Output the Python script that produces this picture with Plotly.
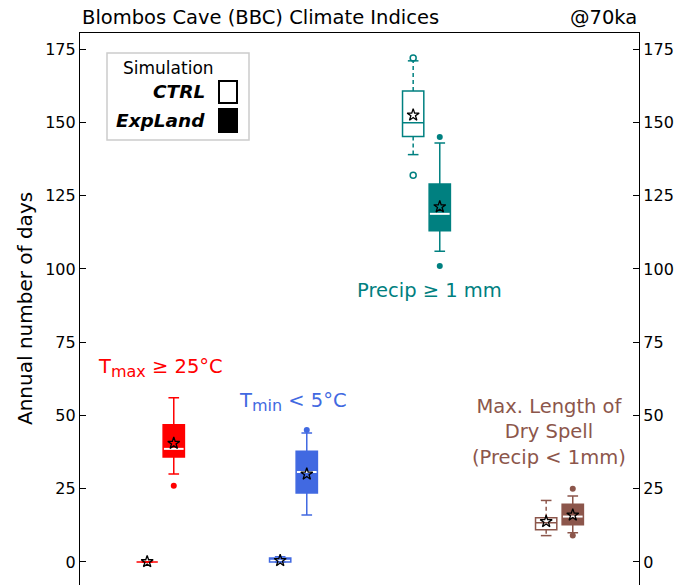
import plotly.graph_objects as go

# ---------------- data ----------------
groups = ["Tmax ≥ 25°C", "Tmin < 5°C", "Precip ≥ 1 mm", "Max dry spell"]
colors = ["#ff0000", "#4169e1", "#008080", "#8c564b"]

ctrl_lo = [0, 0, 139, 9]
ctrl_q1 = [0, 0, 145.2, 11.0]
ctrl_med = [0, 1, 149.9, 13.4]
ctrl_q3 = [0, 1.4, 160.7, 15.1]
ctrl_hi = [0, 1.8, 171, 21]
ctrl_mean = [0.1, 0.5, 152.5, 13.8]
ctrl_out = [[], [], [172, 132], []]

exp_lo = [30, 16, 106, 10]
exp_q1 = [35.8, 23.5, 113, 12.7]
exp_med = [38.6, 30.7, 118.8, 15.5]
exp_q3 = [46.8, 37.8, 129, 19.7]
exp_hi = [56, 44, 143, 22.5]
exp_mean = [40.5, 30, 121.2, 16]
exp_out = [[26], [45], [145, 101], [25, 9]]

y_ticks = [0, 25, 50, 75, 100, 125, 150, 175]

# ---------------- style ----------------
FONT = "DejaVu Sans"
OFF = 0.1
BW = 0.16
CAP = 0.04
# page body has an 8px default margin; compensate in the figure margins
ML, MR, MT, MB = 72, 59, 25, 8
PW = 690 - ML - MR
PH = 585 - MT - MB

fig = go.Figure()

for i, g in enumerate(groups):
    c = colors[i]
    # CTRL box (whiskers drawn dashed separately)
    xc = i - OFF
    fig.add_trace(go.Box(
        x=[xc], q1=[ctrl_q1[i]], median=[ctrl_med[i]], q3=[ctrl_q3[i]],
        lowerfence=[ctrl_q1[i]], upperfence=[ctrl_q3[i]],
        width=BW, fillcolor="white", line=dict(color=c, width=1.5),
        whiskerwidth=0, boxpoints=False, showlegend=False, hoverinfo="skip"))
    fig.add_trace(go.Scatter(
        x=[xc, xc, None, xc, xc],
        y=[ctrl_q3[i], ctrl_hi[i], None, ctrl_q1[i], ctrl_lo[i]],
        mode="lines", line=dict(color=c, width=1.5, dash="4px,3px"),
        showlegend=False, hoverinfo="skip"))
    fig.add_trace(go.Scatter(
        x=[xc - CAP, xc + CAP, None, xc - CAP, xc + CAP],
        y=[ctrl_hi[i], ctrl_hi[i], None, ctrl_lo[i], ctrl_lo[i]],
        mode="lines", line=dict(color=c, width=1.5),
        showlegend=False, hoverinfo="skip"))
    if ctrl_out[i]:
        fig.add_trace(go.Scatter(
            x=[xc] * len(ctrl_out[i]), y=ctrl_out[i], mode="markers",
            marker=dict(symbol="circle-open", size=6, color=c, line=dict(width=1.5)),
            showlegend=False, hoverinfo="skip"))

    # ExpLand box
    xe = i + OFF
    fig.add_trace(go.Box(
        x=[xe], q1=[exp_q1[i]], median=[exp_med[i]], q3=[exp_q3[i]],
        lowerfence=[exp_lo[i]], upperfence=[exp_hi[i]],
        width=BW, fillcolor=c, line=dict(color=c, width=1.5),
        whiskerwidth=0.5, boxpoints=False, showlegend=False, hoverinfo="skip"))
    fig.add_trace(go.Scatter(
        x=[xe - BW / 2 + 0.006, xe + BW / 2 - 0.006], y=[exp_med[i], exp_med[i]],
        mode="lines", line=dict(color="white", width=2),
        showlegend=False, hoverinfo="skip"))
    fig.add_trace(go.Scatter(
        x=[xe] * len(exp_out[i]), y=exp_out[i], mode="markers",
        marker=dict(symbol="circle", size=6, color=c),
        showlegend=False, hoverinfo="skip"))

# mean stars
fig.add_trace(go.Scatter(
    x=[i - OFF for i in range(len(groups))], y=ctrl_mean, mode="markers",
    marker=dict(symbol="star-open", size=9, color="black", line=dict(width=1.3)),
    showlegend=False, hoverinfo="skip"))
fig.add_trace(go.Scatter(
    x=[i + OFF for i in range(len(groups))], y=exp_mean, mode="markers",
    marker=dict(symbol="star-open", size=9, color="black", line=dict(width=1.3)),
    showlegend=False, hoverinfo="skip"))
# invisible trace for right axis
fig.add_trace(go.Scatter(
    x=[i + OFF for i in range(len(groups))], y=exp_mean, yaxis="y2", mode="markers",
    marker=dict(opacity=0), showlegend=False, hoverinfo="skip"))

YR = [-7.85, 180.5]
axis_common = dict(range=YR, tickvals=y_ticks, ticks="inside", ticklen=6,
                   tickwidth=1, tickcolor="black", showline=True, linecolor="black",
                   linewidth=1.2, showgrid=False, zeroline=False, automargin=False,
                   tickfont=dict(family=FONT, size=16, color="black"))

fig.update_layout(
    width=690, height=585,
    margin=dict(l=ML, r=MR, t=MT, b=MB, autoexpand=False),
    paper_bgcolor="white", plot_bgcolor="white",
    font=dict(family=FONT, color="black"),
    xaxis=dict(range=[-0.605, 3.598], showticklabels=False, ticks="", showgrid=False,
               zeroline=False, showline=True, side="top", linecolor="black", linewidth=1.2,
               automargin=False),
    yaxis=dict(**axis_common),
    yaxis2=dict(**axis_common, overlaying="y", side="right"),
    boxmode="overlay",
)

# pixel (in the screenshot) -> paper coordinates
def px(xp):
    return (xp - 80) / PW

def py(yp):
    return (585 - yp) / PH

ann = []
ann.append(dict(text="Blombos Cave (BBC) Climate Indices", xref="paper", yref="paper",
                x=0, y=py(17), xanchor="left", yanchor="middle", showarrow=False,
                font=dict(family=FONT, size=19.5, color="black")))
ann.append(dict(text="@70ka", xref="paper", yref="paper", x=1, y=py(17), xanchor="right",
                yanchor="middle", showarrow=False,
                font=dict(family=FONT, size=19.5, color="black")))
ann.append(dict(text="Annual number of days", xref="paper", yref="paper", x=px(25), y=py(309),
                textangle=-90, showarrow=False, xanchor="center", yanchor="middle",
                font=dict(family=FONT, size=20, color="black")))

SUB = "<sub><span style='font-size:16px'>{}</span></sub>"
labels = [
    ("T" + SUB.format("max") + " ≥ 25°C", 0, 66.2),
    ("T" + SUB.format("min") + " < 5°C", 1, 54.7),
    ("Precip ≥ 1 mm", 2.02, 92.8),
    ("Max. Length of<br>Dry Spell<br>(Precip < 1mm)", 2.92, 44.4),
]
for (t, x, y), c in zip(labels, colors):
    ann.append(dict(text=t, x=x, y=y, xref="x", yref="y", showarrow=False,
                    xanchor="center", yanchor="middle",
                    font=dict(family=FONT, size=19.5, color=c)))

# legend
ann.append(dict(text="Simulation", xref="paper", yref="paper", x=px(168), y=py(68),
                showarrow=False, xanchor="center", yanchor="middle",
                font=dict(family=FONT, size=17, color="black")))
ann.append(dict(text="<b><i>CTRL</i></b>", xref="paper", yref="paper", x=px(207), y=py(91),
                showarrow=False, xanchor="right", yanchor="middle",
                font=dict(family=FONT, size=18.5, color="black")))
ann.append(dict(text="<b><i>ExpLand</i></b>", xref="paper", yref="paper", x=px(207), y=py(120),
                showarrow=False, xanchor="right", yanchor="middle",
                font=dict(family=FONT, size=18.5, color="black")))
fig.update_layout(annotations=ann)

shapes = [
    dict(type="rect", xref="paper", yref="paper", x0=px(107), x1=px(249), y0=py(140), y1=py(53),
         line=dict(color="#cccccc", width=1.5), fillcolor="white", layer="below"),
    dict(type="rect", xref="paper", yref="paper", x0=px(219), x1=px(237), y0=py(103), y1=py(81),
         line=dict(color="black", width=2), fillcolor="white"),
    dict(type="rect", xref="paper", yref="paper", x0=px(219), x1=px(237), y0=py(132), y1=py(109),
         line=dict(color="black", width=2), fillcolor="black"),
]
fig.update_layout(shapes=shapes)

fig.write_html("out.html")
